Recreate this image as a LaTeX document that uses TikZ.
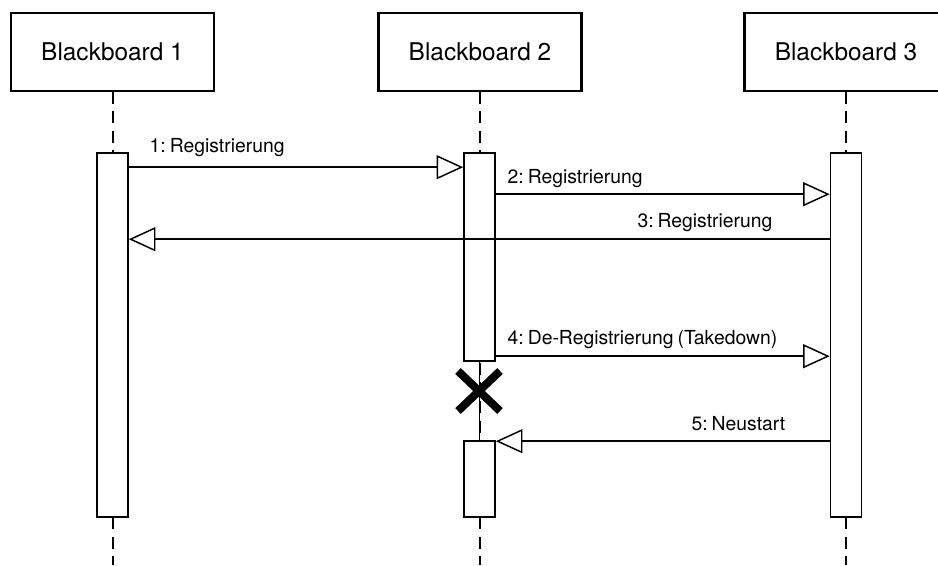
\documentclass[tikz,border=0pt]{standalone}
\usepackage{fontspec}
\setmainfont{TeX Gyre Heros}
\usetikzlibrary{arrows.meta,calc}

\begin{document}
\begin{tikzpicture}[x=0.75pt, y=-0.75pt,
	every node/.style={font=\fontsize{14.5}{17}\selectfont},
	>={Triangle[open, length=20pt, width=18pt, fill=white]},
	board/.style={draw, line width=1.6pt, fill=white, minimum width=152.25pt, minimum height=58.5pt, font=\fontsize{18.3}{22}\selectfont},
	act/.style={draw, line width=1.2pt, fill=white, minimum width=23.25pt, inner sep=0pt},
	life/.style={line width=1.5pt, dash pattern=on 9pt off 5.5pt},
	msg/.style={->, line width=1.1pt}]
	\clip (0,0) rectangle (938,565);
	\node[board] (b1) at (112.5,52) {Blackboard 1};
	\node[board] (b2) at (480,52) {Blackboard 2};
	\node[board] (b3) at (846,52) {Blackboard 3};
	\coordinate (e1) at (112.5,565);
	\coordinate (e2) at (480,565);
	\coordinate (e3) at (846,565);
	% lifelines
	\draw[life] (b1.south) -- (e1);
	\draw[life] (b2.south) -- (e2);
	\draw[life] (b3.south) -- (e3);
	% activations
	\node[act, minimum height=273pt] (act1) at (112.5,335) {};
	\node[act, minimum height=156pt] (act2a) at (479.5,257) {};
	\node[act, minimum height=57pt] (act2b) at (479.5,479) {};
	\node[act, minimum height=273pt] (act3) at (846,335) {};
	\draw[line width=1.1pt] (act2a.south) -- (act2b.north);
	% messages
	\draw[msg] ($(act1.north east)+(0,15)$) -- ($(act2a.north west)+(0,15)$);
	\draw[msg] ($(act2a.north east)+(0,42)$) -- ($(act3.north west)+(0,42)$);
	\draw[msg] ($(act3.north west)+(0,87)$) -- ($(act1.north east)+(0,87)$);
	\draw[msg] ($(act2a.north east)+(0,204)$) -- ($(act3.north west)+(0,204)$);
	\draw[msg] ($(act3.north west)+(0,289)$) -- ($(act2b.north east)+(0,1)$);
	\node[anchor=west] (l1) at (145,148) {1:\hspace{3pt}Registrierung};
	\node[anchor=west] (l2) at (503,179) {2:\hspace{3pt}Registrierung};
	\node[anchor=east] (l3) at (777,223) {3:\hspace{3pt}Registrierung};
	\node[anchor=west] (l4) at (503,340) {4:\hspace{3pt}De-Registrierung\hspace{3pt}(Takedown)};
	\node[anchor=east] (l5) at (790,424) {5:\hspace{3pt}Neustart};
	% destruction
	\coordinate (kill) at (479,391);
	\draw[line width=6pt] ($(kill)+(-21,-20)$) -- ($(kill)+(21,20)$);
	\draw[line width=6pt] ($(kill)+(-21,20)$) -- ($(kill)+(21,-20)$);
\end{tikzpicture}
\end{document}
